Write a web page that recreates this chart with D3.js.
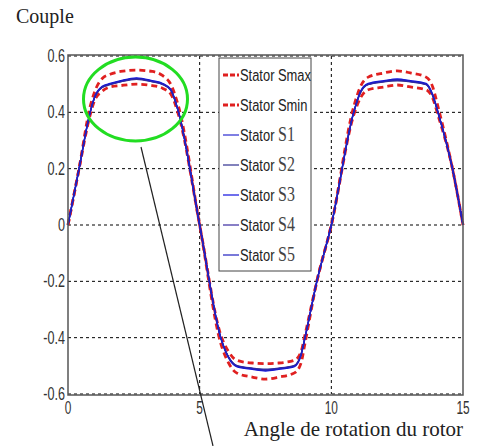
<!DOCTYPE html>
<html>
<head>
<meta charset="utf-8">
<script src="https://cdn.jsdelivr.net/npm/d3@7"></script>
<style>
  body { margin: 0; background: #fff; }
</style>
</head>
<body>
<svg id="chart" width="477" height="446"></svg>
<script>
// angle values (x) and torque curves
var angle = [0, 0.4, 0.84, 1.0, 1.3, 1.6, 2.0, 2.6, 3.2, 3.6, 3.9, 4.2, 5.0, 5.8, 6.1, 6.4, 7.0, 7.5, 8.0, 8.6, 8.85, 9.0, 9.45, 10, 10.85, 11.1, 11.4, 12.0, 12.5, 13.0, 13.6, 13.85, 14.05, 14.6, 15];
var smax  = [0, 0.19, 0.42, 0.47, 0.52, 0.535, 0.545, 0.55, 0.545, 0.53, 0.50, 0.42, 0, -0.42, -0.49, -0.525, -0.54, -0.547, -0.54, -0.525, -0.49, -0.42, -0.2, 0, 0.42, 0.49, 0.525, 0.54, 0.547, 0.54, 0.525, 0.49, 0.42, 0.2, 0];
var smin  = [0, 0.19, 0.39, 0.44, 0.475, 0.49, 0.495, 0.50, 0.495, 0.485, 0.465, 0.39, 0, -0.39, -0.45, -0.48, -0.49, -0.492, -0.49, -0.48, -0.45, -0.39, -0.2, 0, 0.39, 0.45, 0.48, 0.49, 0.497, 0.49, 0.48, 0.45, 0.39, 0.2, 0];
var s1    = [0, 0.19, 0.40, 0.45, 0.49, 0.50, 0.51, 0.52, 0.51, 0.50, 0.48, 0.40, 0, -0.40, -0.47, -0.50, -0.51, -0.515, -0.51, -0.50, -0.46, -0.40, -0.2, 0, 0.40, 0.47, 0.50, 0.51, 0.515, 0.51, 0.50, 0.46, 0.40, 0.2, 0];
var s2    = [0, 0.19, 0.40, 0.45, 0.488, 0.498, 0.508, 0.517, 0.508, 0.498, 0.478, 0.40, 0, -0.40, -0.468, -0.498, -0.508, -0.512, -0.508, -0.498, -0.458, -0.40, -0.2, 0, 0.40, 0.468, 0.498, 0.508, 0.512, 0.508, 0.498, 0.458, 0.40, 0.2, 0];
var s3    = [0, 0.19, 0.40, 0.452, 0.492, 0.502, 0.512, 0.522, 0.512, 0.502, 0.482, 0.40, 0, -0.40, -0.472, -0.502, -0.512, -0.518, -0.512, -0.502, -0.462, -0.40, -0.2, 0, 0.40, 0.472, 0.502, 0.512, 0.518, 0.512, 0.502, 0.462, 0.40, 0.2, 0];
var s4    = [0, 0.19, 0.40, 0.449, 0.489, 0.499, 0.509, 0.519, 0.509, 0.499, 0.479, 0.40, 0, -0.40, -0.469, -0.499, -0.509, -0.514, -0.509, -0.499, -0.459, -0.40, -0.2, 0, 0.40, 0.469, 0.499, 0.509, 0.514, 0.509, 0.499, 0.459, 0.40, 0.2, 0];
var s5    = [0, 0.19, 0.40, 0.451, 0.491, 0.501, 0.511, 0.521, 0.511, 0.501, 0.481, 0.40, 0, -0.40, -0.471, -0.501, -0.511, -0.516, -0.511, -0.501, -0.461, -0.40, -0.2, 0, 0.40, 0.471, 0.501, 0.511, 0.516, 0.511, 0.501, 0.461, 0.40, 0.2, 0];
var names = ["Smax", "Smin", "S1", "S2", "S3", "S4", "S5"];
var xTicks = [0, 5, 10, 15];
var yTicks = [-0.6, -0.4, -0.2, 0, 0.2, 0.4, 0.6];

var series = [
  { name: names[0], values: smax, color: "#e02020", dash: "6,4", width: 2.8 },
  { name: names[1], values: smin, color: "#e02020", dash: "6,4", width: 2.8 },
  { name: names[2], values: s1, color: "#2a2ad0", dash: null, width: 1.2 },
  { name: names[3], values: s2, color: "#303090", dash: null, width: 1.2 },
  { name: names[4], values: s3, color: "#1010e0", dash: null, width: 1.6 },
  { name: names[5], values: s4, color: "#3a2aa0", dash: null, width: 1.2 },
  { name: names[6], values: s5, color: "#2020c0", dash: null, width: 1.2 }
];

var SANS = "Liberation Sans, Arial, sans-serif";
var SERIF = "Liberation Serif, Times New Roman, serif";

var svg = d3.select("#chart");
var x = d3.scaleLinear().domain([0, 15]).range([68, 463]);
var y = d3.scaleLinear().domain([-0.6, 0.6]).range([394, 56]);

// grid
svg.append("g").selectAll("line").data(yTicks).enter().append("line")
  .attr("x1", x(0)).attr("x2", x(15))
  .attr("y1", function(d){ return y(d); }).attr("y2", function(d){ return y(d); })
  .attr("stroke", "#000").attr("stroke-width", 1).attr("stroke-dasharray", "3,3");
svg.append("g").selectAll("line").data([5, 10]).enter().append("line")
  .attr("y1", y(0.6)).attr("y2", y(-0.6))
  .attr("x1", function(d){ return x(d); }).attr("x2", function(d){ return x(d); })
  .attr("stroke", "#000").attr("stroke-width", 1).attr("stroke-dasharray", "3,3");

// curves
var line = d3.line().curve(d3.curveMonotoneX)
  .x(function(d){ return x(d[0]); }).y(function(d){ return y(d[1]); });
svg.append("g").selectAll("path").data(series).enter().append("path")
  .attr("d", function(s){ return line(angle.map(function(a, i){ return [a, s.values[i]]; })); })
  .attr("fill", "none")
  .attr("stroke", function(s){ return s.color; })
  .attr("stroke-width", function(s){ return s.width; })
  .attr("stroke-dasharray", function(s){ return s.dash; });

// frame
svg.append("rect").attr("x", x(0)).attr("y", y(0.6) - 1)
  .attr("width", x(15) - x(0)).attr("height", y(-0.6) - y(0.6) + 2)
  .attr("fill", "none").attr("stroke", "#555").attr("stroke-width", 1.5);

// tick labels (condensed look)
svg.append("g").selectAll("text").data(yTicks).enter().append("text")
  .attr("transform", function(d){ return "translate(65," + (y(d) + 6) + ") scale(0.7,1)"; })
  .attr("text-anchor", "end").attr("font-family", SANS).attr("font-size", 18).attr("fill", "#333")
  .text(function(d){ return d === 0 ? "0" : d.toFixed(1); });
svg.append("g").selectAll("text").data(xTicks).enter().append("text")
  .attr("transform", function(d){ return "translate(" + x(d) + ",414) scale(0.66,1)"; })
  .attr("text-anchor", "middle").attr("font-family", SANS).attr("font-size", 18).attr("fill", "#333")
  .text(function(d){ return d; });

// titles
svg.append("text").attr("font-family", SERIF).attr("x", 16).attr("y", 23)
  .attr("font-size", 20).attr("fill", "#222").text("Couple");
svg.append("text").attr("font-family", SERIF).attr("x", 463).attr("y", 436)
  .attr("text-anchor", "end").attr("font-size", 21).attr("fill", "#222").text("Angle de rotation du rotor");

// legend
var lg = svg.append("g");
lg.append("rect").attr("x", 219).attr("y", 58).attr("width", 92).attr("height", 213)
  .attr("fill", "#fff").attr("stroke", "#444").attr("stroke-width", 1);
var items = lg.selectAll("g.item").data(series).enter().append("g").attr("class", "item")
  .attr("transform", function(d, i){ return "translate(0," + (75 + i * 30) + ")"; });
items.append("line").attr("x1", 223).attr("x2", 239).attr("y1", 0).attr("y2", 0)
  .attr("stroke", function(s){ return s.color; })
  .attr("stroke-width", function(s){ return s.dash ? 2.8 : 1.2; })
  .attr("stroke-dasharray", function(s){ return s.dash ? "5,2" : null; });
var lt = items.append("text").attr("transform", "translate(240,6) scale(0.76,1)").attr("fill", "#222");
lt.append("tspan").attr("font-family", SANS).attr("font-size", 17).text("Stator ");
lt.append("tspan")
  .attr("font-family", function(s){ return s.name.length > 2 ? SANS : SERIF; })
  .attr("font-size", function(s){ return s.name.length > 2 ? 17 : 21; })
  .attr("fill", function(s){ return s.name.length > 2 ? "#222" : "#444"; })
  .text(function(s){ return s.name; });

// annotation
svg.append("ellipse").attr("cx", 135.5).attr("cy", 99).attr("rx", 52).attr("ry", 42)
  .attr("fill", "none").attr("stroke", "#22dd22").attr("stroke-width", 3);
svg.append("line").attr("x1", 141).attr("y1", 147).attr("x2", 213).attr("y2", 446)
  .attr("stroke", "#222").attr("stroke-width", 1.2);
</script>
</body>
</html>
